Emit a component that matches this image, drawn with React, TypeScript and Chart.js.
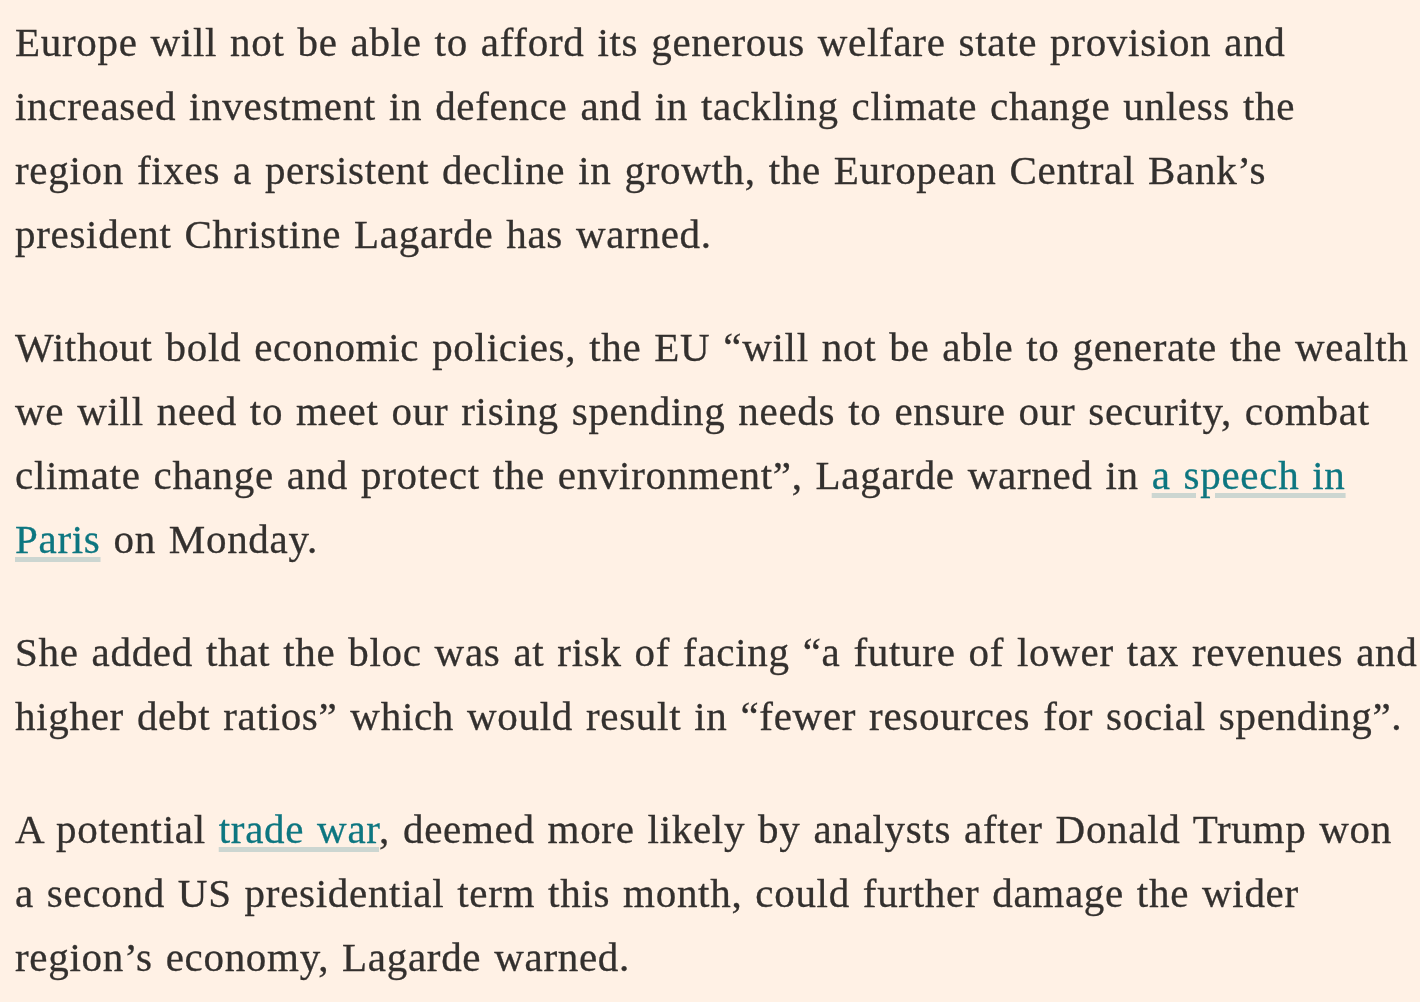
import React, { useEffect, useRef } from "react";
import { Chart, registerables } from "chart.js";

Chart.register(...registerables);

type Seg = { text: string; link?: boolean };

const paragraph1: Seg[][] = [
  [{ text: "Europe will not be able to afford its generous welfare state provision and" }],
  [{ text: "increased investment in defence and in tackling climate change unless the" }],
  [{ text: "region fixes a persistent decline in growth, the European Central Bank\u2019s" }],
  [{ text: "president Christine Lagarde has warned." }],
];

const paragraph2: Seg[][] = [
  [{ text: "Without bold economic policies, the EU \u201cwill not be able to generate the wealth" }],
  [{ text: "we will need to meet our rising spending needs to ensure our security, combat" }],
  [
    { text: "climate change and protect the environment\u201d, Lagarde warned in " },
    { text: "a speech in", link: true },
  ],
  [{ text: "Paris", link: true }, { text: " on Monday." }],
];

const paragraph3: Seg[][] = [
  [{ text: "She added that the bloc was at risk of facing \u201ca future of lower tax revenues and" }],
  [{ text: "higher debt ratios\u201d which would result in \u201cfewer resources for social spending\u201d." }],
];

const paragraph4: Seg[][] = [
  [{ text: "A potential " }, { text: "trade war", link: true }, { text: ", deemed more likely by analysts after Donald Trump won" }],
  [{ text: "a second US presidential term this month, could further damage the wider" }],
  [{ text: "region\u2019s economy, Lagarde warned." }],
];

const paragraphs = [paragraph1, paragraph2, paragraph3, paragraph4];

const BG = "#FFF1E5";
const TEXT = "#33302E";
const LINK = "#0D7680";
const UNDERLINE = "#CCD6D1";

export default function App() {
  const canvasRef = useRef<HTMLCanvasElement | null>(null);

  useEffect(() => {
    document.body.style.margin = "0";
    document.body.style.background = BG;
    const canvas = canvasRef.current;
    if (!canvas) return;
    const bgPlugin = {
      id: "pageBackground",
      beforeDraw(chart: Chart) {
        const { ctx, width, height } = chart;
        ctx.save();
        ctx.fillStyle = BG;
        ctx.fillRect(0, 0, width, height);
        ctx.restore();
      },
    };
    const chart = new Chart(canvas, {
      type: "line",
      data: { labels: [], datasets: [] },
      options: {
        responsive: false,
        animation: false,
        events: [],
        plugins: { legend: { display: false }, tooltip: { enabled: false } },
        scales: { x: { display: false }, y: { display: false } },
      },
      plugins: [bgPlugin],
    });
    return () => chart.destroy();
  }, []);

  return (
    <div style={{ position: "relative", width: 1420, height: 1002, overflow: "hidden", background: BG }}>
      <canvas ref={canvasRef} width={1420} height={1002} style={{ position: "absolute", left: 0, top: 0 }} />
      <div
        style={{
          position: "absolute",
          left: 15,
          top: 10,
          fontFamily: "'Liberation Serif', serif",
          fontSize: 41,
          letterSpacing: "0.7px",
          wordSpacing: "2px",
          lineHeight: "64px",
          color: TEXT,
          WebkitTextStroke: "0.3px " + TEXT,
        }}
      >
        {paragraphs.map((p, pi) => (
          <div key={pi} style={{ marginBottom: 49 }}>
            {p.map((line, li) => (
              <div key={li} style={{ whiteSpace: "nowrap" }}>
                {line.map((s, si) =>
                  s.link ? (
                    <span
                      key={si}
                      style={{
                        color: LINK,
                        WebkitTextStroke: "0.3px " + LINK,
                        textDecorationLine: "underline",
                        textDecorationColor: UNDERLINE,
                        textDecorationThickness: "5px",
                        textUnderlineOffset: "4px",
                      }}
                    >
                      {s.text}
                    </span>
                  ) : (
                    <span key={si}>{s.text}</span>
                  )
                )}
              </div>
            ))}
          </div>
        ))}
      </div>
    </div>
  );
}
